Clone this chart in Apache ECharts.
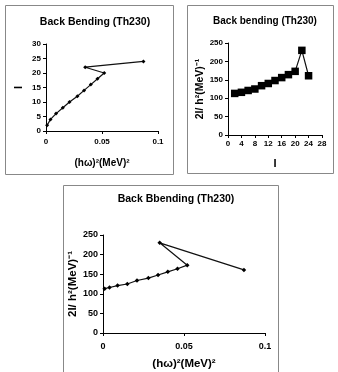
<!DOCTYPE html>
<html>
<head>
<meta charset="utf-8">
<script src="https://cdn.jsdelivr.net/npm/echarts@6/dist/echarts.min.js"></script>
<style>
  html, body { margin: 0; padding: 0; background: #fff; }
  #chart { width: 338px; height: 372px; }
</style>
</head>
<body>
<div id="chart"></div>
<script>
// spin values and read-off data (Th230 back bending)
var spinI = [2, 4, 6, 8, 10, 12, 14, 16, 18, 20, 22, 24];
var omegaSq = [0.001, 0.004, 0.009, 0.015, 0.021, 0.028, 0.034, 0.040, 0.046, 0.052, 0.035, 0.087];
var moment = [113, 116, 121, 125, 134, 140, 148, 156, 164, 173, 230, 161];

var titles = ['Back Bending (Th230)', 'Back bending (Th230)', 'Back Bbending (Th230)'];
var xName = '(hω)\u00b2(MeV)\u00b2';
var yName = '2I/ h\u00b2(MeV)\u207b\u00b9';

var font = 'Liberation Sans, Arial, sans-serif';

var leftPts = spinI.map(function (v, i) { return [omegaSq[i], v]; });
var rightPts = spinI.map(function (v, i) { return [v, moment[i]]; });
var bottomPts = moment.map(function (v, i) { return [omegaSq[i], v]; });

function txt(size) {
  return { color: '#000', fontSize: size, fontWeight: 'bold', fontFamily: font };
}

function axis(grid, opts) {
  var base = {
    gridIndex: grid,
    type: 'value',
    axisLine: { show: true, lineStyle: { color: '#000', width: 1 } },
    axisTick: { show: true, length: 3, lineStyle: { color: '#000' } },
    axisLabel: Object.assign(txt(8), { margin: 5 }),
    splitLine: { show: false },
    nameLocation: 'middle',
    nameTextStyle: txt(10)
  };
  for (var k in opts) base[k] = opts[k];
  return base;
}

function zeroFmt(v) { return v === 0 ? '0' : String(v); }

var chart = echarts.init(document.getElementById('chart'));

chart.setOption({
  animation: false,
  title: [
    { text: titles[0], left: 90, top: 12, textAlign: 'center', textStyle: txt(10.5) },
    { text: titles[1], left: 260, top: 11, textAlign: 'center', textStyle: txt(10) },
    { text: titles[2], left: 171, top: 189, textAlign: 'center', textStyle: txt(10.5) }
  ],
  graphic: [
    { type: 'rect', shape: { x: 5.5, y: 5.5, width: 168, height: 169 }, style: { fill: 'none', stroke: '#888', lineWidth: 1 } },
    { type: 'rect', shape: { x: 187.5, y: 5.5, width: 146, height: 168 }, style: { fill: 'none', stroke: '#888', lineWidth: 1 } },
    { type: 'rect', shape: { x: 63.5, y: 185.5, width: 215, height: 190 }, style: { fill: 'none', stroke: '#888', lineWidth: 1 } }
  ],
  grid: [
    { left: 46, top: 44, width: 112, height: 87 },
    { left: 228, top: 43, width: 94, height: 92 },
    { left: 103, top: 235, width: 162, height: 98 }
  ],
  xAxis: [
    axis(0, { min: 0, max: 0.1, interval: 0.05, name: xName, nameGap: 27,
      axisLabel: Object.assign(txt(8), { margin: 7, formatter: zeroFmt }) }),
    axis(1, { min: 0, max: 28, interval: 4, name: 'I', nameGap: 23, nameTextStyle: txt(11) }),
    axis(2, { min: 0, max: 0.1, interval: 0.05, name: xName, nameGap: 25, nameTextStyle: txt(11.5),
      axisLabel: Object.assign(txt(9), { margin: 9, formatter: zeroFmt }) })
  ],
  yAxis: [
    axis(0, { min: 0, max: 30, interval: 5, name: 'I', nameRotate: 90, nameGap: 22, nameTextStyle: txt(11) }),
    axis(1, { min: 0, max: 250, interval: 50, name: yName, nameRotate: 90, nameGap: 22, nameTextStyle: txt(10.5) }),
    axis(2, { min: 0, max: 250, interval: 50, name: yName, nameRotate: 90, nameGap: 23, nameTextStyle: txt(11.5),
      axisLabel: Object.assign(txt(9), { margin: 5 }) })
  ],
  series: [
    { type: 'line', xAxisIndex: 0, yAxisIndex: 0, data: leftPts,
      symbol: 'diamond', symbolSize: 4, itemStyle: { color: '#000' },
      lineStyle: { color: '#111', width: 1.2 } },
    { type: 'line', xAxisIndex: 1, yAxisIndex: 1, data: rightPts,
      symbol: 'rect', symbolSize: 7.5, itemStyle: { color: '#000' },
      lineStyle: { color: '#111', width: 1.2 } },
    { type: 'line', xAxisIndex: 2, yAxisIndex: 2, data: bottomPts,
      symbol: 'diamond', symbolSize: 4.5, itemStyle: { color: '#000' },
      lineStyle: { color: '#111', width: 1.2 } }
  ]
});
</script>
</body>
</html>
